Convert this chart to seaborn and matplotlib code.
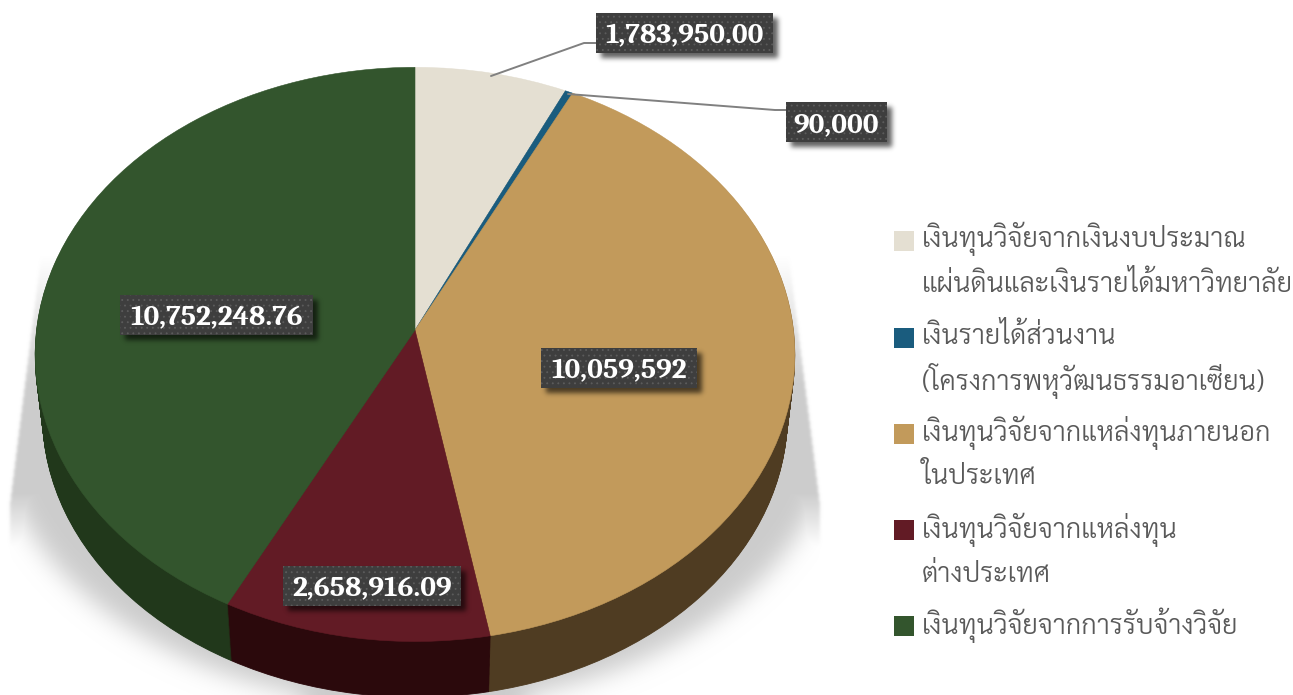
import numpy as np
import matplotlib
matplotlib.use('Agg')
import matplotlib.pyplot as plt
from matplotlib.patches import Rectangle
from matplotlib.transforms import Transform
import seaborn as sns

# Research funding by source
funding_values = [1783950.00, 90000, 10059592, 2658916.09, 10752248.76]
value_labels = ['1,783,950.00', '90,000', '10,059,592', '2,658,916.09', '10,752,248.76']
legend_lines = [
    ['เงินทุนวิจัยจากเงินงบประมาณ', 'แผ่นดินและเงินรายได้มหาวิทยาลัย'],
    ['เงินรายได้ส่วนงาน', '(โครงการพหุวัฒนธรรมอาเซียน)'],
    ['เงินทุนวิจัยจากแหล่งทุนภายนอก', 'ในประเทศ'],
    ['เงินทุนวิจัยจากแหล่งทุน', 'ต่างประเทศ'],
    ['เงินทุนวิจัยจากการรับจ้างวิจัย'],
]
top_colors = ['#e4dfd2', '#1a5c7e', '#c29a5b', '#621b25', '#33552d']
side_colors = ['#6e6a5e', '#0d2e3f', '#4f3c22', '#2b090c', '#21381b']

sns.set_theme(style='white')
W, H = 1293, 695
plt.rcParams['hatch.linewidth'] = 0.6
fig = plt.figure(figsize=(W / 100, H / 100), dpi=100)
ax = fig.add_axes([0, 0, 1, 1])


class TiltedDisc(Transform):
    """Projects the unit disc of a pie onto a plane tilted away from the viewer."""
    input_dims = output_dims = 2
    is_separable = False
    has_inverse = False

    def __init__(self, cx, cy, rx, ry, tilt):
        super().__init__()
        self.cx, self.cy, self.rx, self.ry, self.tilt = cx, cy, rx, ry, tilt

    def transform_non_affine(self, values):
        x, y = np.asarray(values).T
        w = 1 + self.tilt * y
        return np.column_stack([self.cx + self.rx * x / w, self.cy - self.ry * y / w])


def gaussian_blur(img, sigma):
    radius = int(3 * sigma)
    kernel = np.exp(-0.5 * (np.arange(-radius, radius + 1) / sigma) ** 2)
    kernel /= kernel.sum()
    pad = np.pad(img, radius, mode='edge')
    pad = np.apply_along_axis(np.convolve, 0, pad, kernel, mode='same')
    pad = np.apply_along_axis(np.convolve, 1, pad, kernel, mode='same')
    return pad[radius:-radius, radius:-radius]


def overlay(alpha, grey, zorder):
    rgba = np.zeros((H, W, 4))
    rgba[..., :3] = grey
    rgba[..., 3] = alpha
    ax.imshow(rgba, extent=(0, W, H, 0), zorder=zorder, interpolation='bilinear')


# Soft floor shadow: a blurred ellipse under the disc and a widening sheet behind it,
# both trimmed by the same slanted side edges
yy, xx = np.mgrid[0:H, 0:W] + 0.5
ellipse = (((xx - 415) / 420) ** 2 + ((yy - 415) / 290) ** 2 < 1).astype(float)
ellipse[yy < 400] = 0
half_width = np.minimum(375 + (yy - 265) / 240 * 30, 405)
sides = gaussian_blur((np.abs(xx - 415) < half_width).astype(float), 1.5)
sheet = np.clip((yy - 255) / 130, 0, 1) * np.clip((548 - yy) / 55, 0, 1)
overlay(np.maximum(gaussian_blur(ellipse, 12), sheet) * sides, 0.80, 0)

# Side wall of the disc, stacked from the lower rim up to the top face
depth = 62
for step in np.arange(depth, 0, -1.0):
    scale = 1 - 0.02 * step / depth
    disc = TiltedDisc(415, 330 + step, 378.5 * scale, 285 * scale, 0.085)
    wedges, _ = ax.pie(funding_values, startangle=90, counterclock=False,
                       colors=sns.color_palette(side_colors), radius=1)
    for wedge in wedges:
        wedge.set_transform(disc + ax.transData)
        wedge.set_edgecolor(wedge.get_facecolor())
        wedge.set_linewidth(0.6)
        wedge.set_zorder(1)

# Top face
top_disc = TiltedDisc(415, 330, 378.5, 285, 0.085)
wedges, _ = ax.pie(funding_values, startangle=90, counterclock=False,
                   colors=sns.color_palette(top_colors), radius=1)
for wedge in wedges:
    wedge.set_transform(top_disc + ax.transData)
    wedge.set_edgecolor(wedge.get_facecolor())
    wedge.set_linewidth(0.4)
    wedge.set_zorder(2)

# Leader lines for the two small slices
ax.plot([491, 584, 600], [76, 43, 43], color='#808080', lw=1.4, zorder=3)
ax.plot([568, 775, 790], [94, 110, 110], color='#808080', lw=1.4, zorder=3)

# Value tags with a soft drop shadow
tag_centres = [(684.5, 33), (836.5, 122), (619, 368), (372, 586), (216.5, 315)]
tag_widths = [177, 101, 156, 178, 193]
tag_height = 40
tag_shadow = np.zeros((H, W))
for (x, y), width in zip(tag_centres, tag_widths):
    inside = (np.abs(xx - x - 5) < width / 2) & (np.abs(yy - y - 5) < tag_height / 2)
    tag_shadow[inside] = 1
overlay(gaussian_blur(tag_shadow, 2.5) * 0.62, 0.0, 4)

for text, (x, y), width in zip(value_labels, tag_centres, tag_widths):
    ax.add_patch(Rectangle((x - width / 2, y - tag_height / 2), width, tag_height,
                           facecolor='#3e3e3e', edgecolor='#5c5c5c', hatch='...',
                           linewidth=0, zorder=5))
    ax.text(x, y + 10, text, ha='center', va='baseline', color='white',
            family='Caladea', weight='bold', fontsize=21.2, zorder=6)

# Legend, one swatch per source with its caption wrapped over two lines
swatch_tops = [231, 328, 424, 520, 616]
baselines = [[247, 292], [344, 390], [441, 484], [538, 582], [634]]
for colour, top, lines, ys in zip(top_colors, swatch_tops, legend_lines, baselines):
    ax.add_patch(Rectangle((894, top), 20, 20, facecolor=colour, edgecolor='none', zorder=4))
    for line, y in zip(lines, ys):
        ax.text(922, y, line, ha='left', va='baseline', color='#595959',
                family=['Sarabun', 'DejaVu Sans'], weight=300, fontsize=19.6, zorder=4)

ax.set_aspect('auto')
ax.set_xlim(0, W)
ax.set_ylim(H, 0)
ax.axis('off')

fig.savefig('out.png', dpi=100)
